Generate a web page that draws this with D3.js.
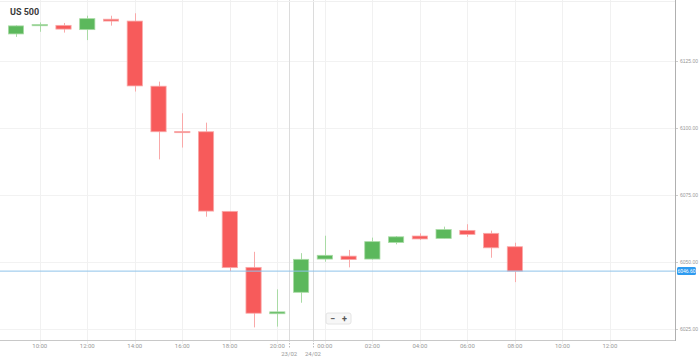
<!DOCTYPE html>
<html><head><meta charset="utf-8">
<script src="https://cdn.jsdelivr.net/npm/d3@7"></script>
<style>html,body{margin:0;padding:0;background:#fff;}svg{display:block;font-family:Roboto, "Open Sans", sans-serif;}</style>
</head><body>
<svg id="c" width="699" height="357"></svg>
<script>
// slot index: 0 = 09:00 (day 1) ... 11 = 20:00, 12 = 23:00 (23/02), 13 = 00:00 (24/02) ...
const slots  = [0,1,2,3,4,5,6,7,8,9,10,11,12,13,14,15,16,17,18,19,20,21];
const opens  = [6135.1,6138.2,6138.3,6136.7,6140.6,6139.9,6115.6,6098.7,6098.6,6068.9,6048.0,6030.7,6038.7,6051.1,6052.2,6051.1,6057.3,6059.7,6058.8,6061.8,6060.7,6055.7];
const highs  = [6138.3,6139.4,6139.2,6141.9,6141.9,6142.8,6117.3,6105.5,6102.0,6069.0,6053.8,6039.8,6053.3,6059.8,6054.5,6059.1,6059.7,6060.7,6063.2,6064.1,6061.7,6057.2];
const lows   = [6134.0,6135.9,6135.6,6132.8,6138.2,6113.6,6088.3,6092.7,6066.9,6046.6,6025.6,6025.9,6034.8,6050.1,6048.0,6050.9,6056.6,6058.2,6058.8,6059.4,6051.6,6042.5];
const closes = [6138.1,6138.6,6136.9,6140.8,6139.9,6115.7,6098.6,6098.5,6069.0,6047.9,6030.9,6031.4,6051.0,6052.5,6050.9,6057.6,6059.4,6058.6,6062.1,6060.3,6055.3,6046.6];
const xTickSlots  = [1,3,5,7,9,11,13,15,17,19,21,23,25];
const xTickLabels = ["10:00","12:00","14:00","16:00","18:00","20:00","00:00","02:00","04:00","06:00","08:00","10:00","12:00"];
const dateSlots  = [11.5,12.5];
const dateLabels = ["23/02","24/02"];
const yTicks = [6025,6050,6075,6100,6125];
const title = "US 500";
const lastPrice = 6046.6;

const svg = d3.select("#c");
const L = 0, R = 675, T = 0, B = 340;
const x = d3.scaleLinear().domain([-0.673, 27.74]).range([L, R]);
const y = d3.scaleLinear().domain([6020.9, 6147.76]).range([B, T]);
const slotW = x(1) - x(0);
const bw = slotW * 0.64;
const green = "#5cb85c", red = "#f75b5b";
const greenW = "#a9dba5", redW = "#f9a9a9";

// grid
svg.append("g").selectAll("line").data(yTicks).join("line")
  .attr("x1", L).attr("x2", R).attr("y1", d => Math.round(y(d)) + 0.5).attr("y2", d => Math.round(y(d)) + 0.5)
  .attr("stroke", "#f2f2f2");
svg.append("g").selectAll("line").data(xTickSlots).join("line")
  .attr("x1", d => Math.round(x(d)) + 0.5).attr("x2", d => Math.round(x(d)) + 0.5)
  .attr("y1", T).attr("y2", B + 4).attr("stroke", "#f1f1f1");
// date separators
svg.append("g").selectAll("line").data(dateSlots).join("line")
  .attr("x1", d => Math.round(x(d)) + 0.5).attr("x2", d => Math.round(x(d)) + 0.5)
  .attr("y1", T).attr("y2", B).attr("stroke", "#dcdcdc");
svg.append("g").selectAll("line").data(dateSlots).join("line")
  .attr("x1", d => Math.round(x(d)) + 0.5).attr("x2", d => Math.round(x(d)) + 0.5)
  .attr("y1", B).attr("y2", B + 8).attr("stroke", "#bbb").attr("stroke-dasharray", "1.5,1.5");
// top faint line
svg.append("line").attr("x1", L).attr("x2", R).attr("y1", 1.5).attr("y2", 1.5).attr("stroke", "#f0f0f0");

// candles
const data = slots.map((s, i) => ({s, o: opens[i], h: highs[i], l: lows[i], c: closes[i]}));
const g = svg.append("g");
g.selectAll("line.w").data(data).join("line").attr("class", "w")
  .attr("x1", d => Math.round(x(d.s)) + 0.5).attr("x2", d => Math.round(x(d.s)) + 0.5)
  .attr("y1", d => y(d.h)).attr("y2", d => y(d.l))
  .attr("stroke", d => d.c >= d.o ? greenW : redW).attr("stroke-width", 1);
g.selectAll("rect").data(data).join("rect")
  .attr("x", d => x(d.s) - bw / 2).attr("width", bw)
  .attr("y", d => y(Math.max(d.o, d.c)))
  .attr("height", d => Math.max(1.2, Math.abs(y(d.o) - y(d.c))))
  .attr("fill", d => d.c >= d.o ? green : red)
  .attr("stroke", d => d.c >= d.o ? greenW : redW).attr("stroke-width", 0.8);

// last price line
svg.append("line").attr("x1", L).attr("x2", R).attr("y1", y(lastPrice)).attr("y2", y(lastPrice))
  .attr("stroke", "#8ec3ea").attr("stroke-width", 1);

// frame
svg.append("line").attr("x1", R + 0.5).attr("x2", R + 0.5).attr("y1", T).attr("y2", B + 1).attr("stroke", "#b0b0b0");
svg.append("line").attr("x1", L).attr("x2", R).attr("y1", B + 0.5).attr("y2", B + 0.5).attr("stroke", "#c8c8c8");

// y axis
const yAxis = d3.axisRight(y).tickValues(yTicks).tickSize(2).tickPadding(2).tickFormat(d3.format(".2f"));
const ya = svg.append("g").attr("transform", `translate(${R + 1},0)`).call(yAxis);
ya.select(".domain").remove();
ya.selectAll("line").attr("stroke", "#ccc");
ya.selectAll("text").attr("fill", "#999").style("font-size", "5px");

// last price label
const lp = svg.append("g").attr("transform", `translate(${R + 2},${y(lastPrice)})`);
lp.append("rect").attr("x", 0).attr("y", -4).attr("width", 19).attr("height", 8).attr("rx", 1.5).attr("fill", "#2e9bf0");
lp.append("text").attr("x", 9.5).attr("y", 1.8).attr("text-anchor", "middle").attr("fill", "#fff")
  .style("font-size", "5px").text(d3.format(".2f")(lastPrice));

// x axis labels
svg.append("g").selectAll("text").data(xTickSlots).join("text")
  .attr("x", d => x(d)).attr("y", B + 8).attr("text-anchor", "middle")
  .attr("fill", "#999").style("font-size", "6px").text((d, i) => xTickLabels[i]);
svg.append("g").selectAll("text").data(dateSlots).join("text")
  .attr("x", d => x(d)).attr("y", B + 15.5).attr("text-anchor", "middle")
  .attr("fill", "#999").style("font-size", "6px").text((d, i) => dateLabels[i]);

// title
svg.append("text").attr("x", 10).attr("y", 15).attr("fill", "#3a3a3a").style("font-size", "9px")
  .style("font-weight", "bold").text(title);

// zoom buttons
const zb = svg.append("g").attr("transform", "translate(326,313)");
zb.append("rect").attr("x", 0).attr("y", 0).attr("width", 25).attr("height", 11).attr("rx", 2)
  .attr("fill", "#f7f7f7").attr("stroke", "#e4e4e4");
zb.append("text").attr("x", 6.5).attr("y", 8.5).attr("text-anchor", "middle").attr("fill", "#555").style("font-size", "9px").style("font-weight", "bold").text("−");
zb.append("text").attr("x", 18.5).attr("y", 8.5).attr("text-anchor", "middle").attr("fill", "#555").style("font-size", "9px").style("font-weight", "bold").text("+");
</script>
</body></html>
